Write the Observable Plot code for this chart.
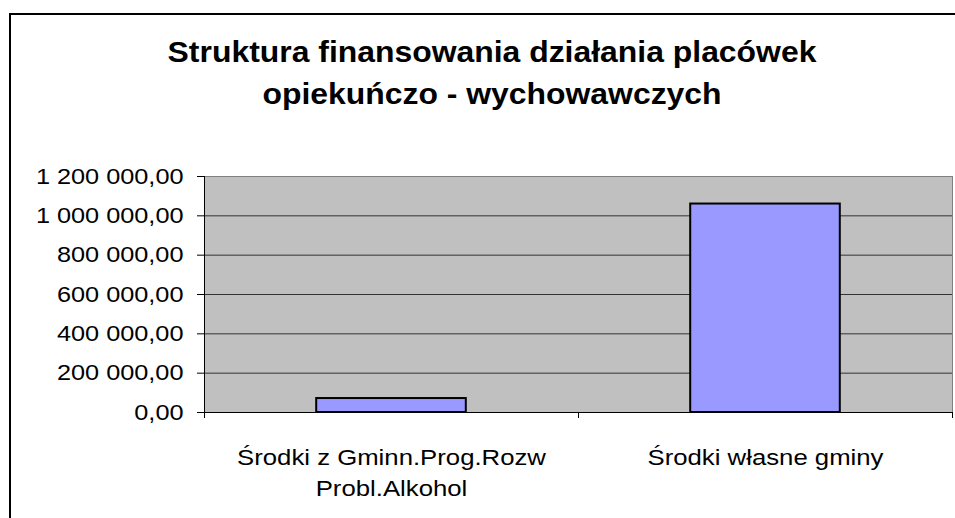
<!DOCTYPE html>
<html>
<head>
<meta charset="utf-8">
<script src="https://cdn.jsdelivr.net/npm/d3@7"></script>
<script src="https://cdn.jsdelivr.net/npm/@observablehq/plot@0.6"></script>
<style>
  html, body { margin: 0; padding: 0; background: #fff; overflow: hidden; }
  body { width: 955px; height: 518px; position: relative; font-family: "Liberation Sans", Arial, sans-serif; }
  #border { position: absolute; left: 9px; top: 12.5px; width: 1200px; height: 800px;
            border-left: 2.7px solid #000; border-top: 2.7px solid #000; pointer-events: none; }
  #title { position: relative; height: 130px; width: 984px; box-sizing: border-box; padding-top: 31px;
           text-align: center; font-weight: bold; font-size: 29px; line-height: 42px; color: #000; }
  #title div { transform: scaleX(1.10); transform-origin: 492px 0; white-space: nowrap; }
</style>
</head>
<body>
<div id="border"></div>
<div id="title"><div>Struktura finansowania działania placówek</div><div>opiekuńczo - wychowawczych</div></div>
<div id="chart"></div>
<script>
// ---- data ----
const categories = ["Środki z Gminn.Prog.Rozw\nProbl.Alkohol", "Środki własne gminy"];
const values = [71000, 1060000];
const yTicks = [0, 200000, 400000, 600000, 800000, 1000000, 1200000];

const data = categories.map((c, i) => ({ i, label: c, value: values[i] }));
const fmt = d3.formatLocale({ decimal: ",", thousands: " ", grouping: [3], currency: ["", " zł"] }).format(",.2f");
const catTicks = [-0.5, 0.5, 1.5];

const chart = Plot.plot({
  width: 955,
  height: 388,
  marginTop: 46,
  marginBottom: 106,
  marginLeft: 204,
  marginRight: 3,
  style: { fontFamily: "'Liberation Sans', Arial, sans-serif", fontSize: "22px", color: "#000", background: "transparent", overflow: "visible" },
  x: { type: "linear", domain: [-0.5, 1.5] },
  y: { domain: [0, 1200000] },
  marks: [
    Plot.frame({ fill: "#C0C0C0", stroke: "#808080" }),
    Plot.ruleY(yTicks.filter(t => t > 0 && t < 1200000), { stroke: "#333", strokeWidth: 1 }),
    Plot.rectY(data, { x1: d => d.i - 0.2, x2: d => d.i + 0.2, y: "value", fill: "#9999FF", stroke: "#000", strokeWidth: 2 }),
    Plot.ruleY([0], { stroke: "#000" }),
    Plot.ruleX([-0.5], { stroke: "#000" }),
    Plot.axisY({ ticks: yTicks, tickFormat: fmt, tickSize: 7, tickPadding: 14, fontSize: 22, label: null }),
    Plot.axisX({ ticks: catTicks, tickFormat: () => "", tickSize: 6, label: null }),
    Plot.text(data, { x: "i", y: 0, text: "label", lineAnchor: "top", dy: 30, fontSize: 22, lineHeight: 1.43 })
  ]
});

// horizontally widen glyphs (reference text is slightly stretched)
function stretch(sel, k) {
  chart.querySelectorAll(sel).forEach(t => {
    const tr = t.getAttribute("transform");
    if (tr) t.setAttribute("transform", tr + ` scale(${k},1)`);
    else {
      const x = +t.getAttribute("x") || 0, y = +t.getAttribute("y") || 0;
      t.removeAttribute("x"); t.removeAttribute("y");
      t.setAttribute("transform", `translate(${x},${y}) scale(${k},1)`);
    }
  });
}
stretch('[aria-label="y-axis tick label"] text', 1.15);
stretch('[aria-label="text"] text', 1.17);
document.getElementById("chart").appendChild(chart);
</script>
</body>
</html>
